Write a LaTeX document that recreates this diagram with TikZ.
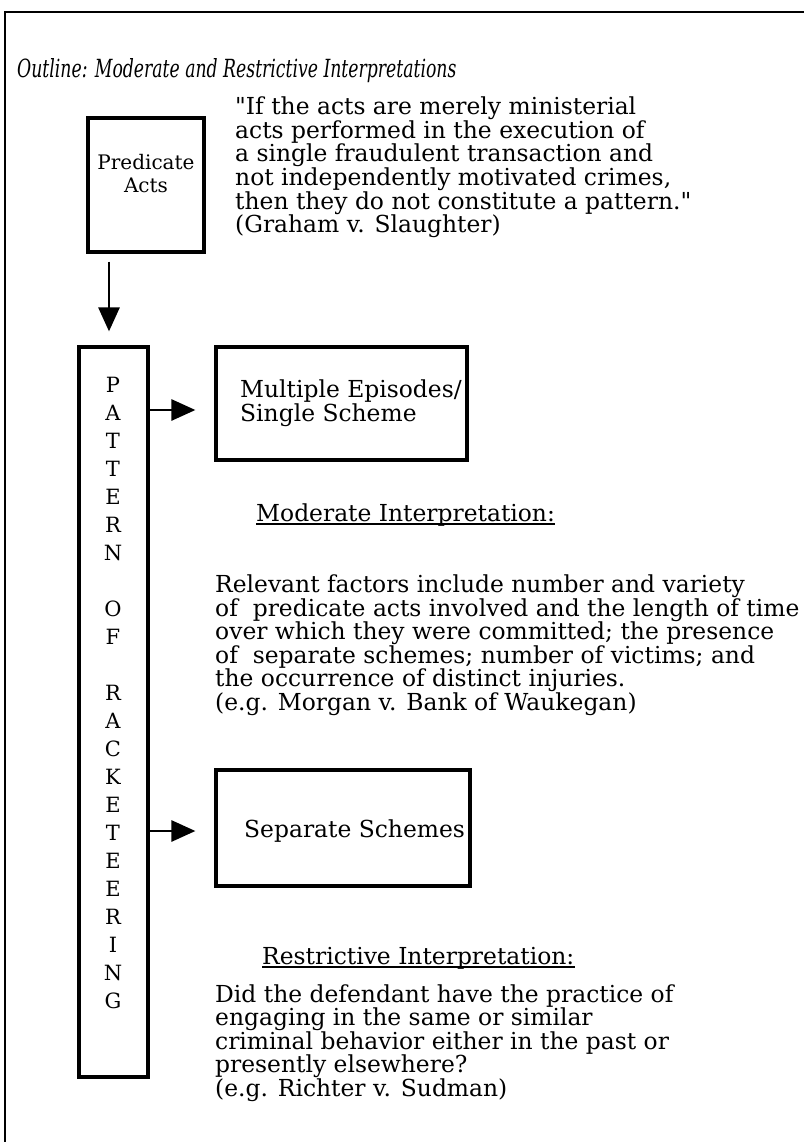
\documentclass[tikz,border=0pt]{standalone}
\usepackage{fontspec}
\setmainfont{DejaVu Serif}
\newfontfamily\titlefont[FakeStretch=0.69]{DejaVu Serif}
\usetikzlibrary{arrows.meta}
\begin{document}
\begin{tikzpicture}[x=1pt,y=-1pt,
  body/.style={font=\fontsize{23.4}{23.5}\selectfont, inner sep=0pt, align=left},
  boxed/.style={draw, line width=3.2pt, inner sep=0pt},
  arr/.style={line width=2.8pt, -{Triangle[length=24pt,width=21pt]}},
  frameline/.style={line width=2.2pt},
  uline/.style={line width=1.4pt}]
\useasboundingbox (0,0) rectangle (804,1142);
% frame
\coordinate (fbl) at (5,1142);
\coordinate (ftl) at (5,12);
\coordinate (ftr) at (804,12);
\draw[frameline] (fbl) -- (ftl) -- (ftr);
% title
\node[body, anchor=base west, font=\titlefont\itshape\fontsize{25}{25}\selectfont] (title) at (17,78) {Outline: Moderate and Restrictive Interpretations};
% predicate acts
\node[boxed, minimum width=116pt, minimum height=134pt] (predbox) at (146,185) {};
\node[body, align=center, anchor=base, font=\fontsize{20}{23}\selectfont] (pred) at (146,193) {Predicate\\Acts};
% quote (base anchor = last line)
\node[body, anchor=base west] (quote) at (235,232.5) {\textquotedbl If the acts are merely ministerial\\acts performed in the execution of\\a single fraudulent transaction and\\not independently motivated crimes,\\then they do not constitute a pattern.\textquotedbl\\(Graham v. Slaughter)};
% pattern box
\node[boxed, minimum width=69pt, minimum height=730pt] (pat) at (113.5,712) {};
\node[body, align=center, anchor=base, font=\fontsize{21}{28}\selectfont] (letters) at (113,1008) {P\\A\\T\\T\\E\\R\\N\\~\\O\\F\\~\\R\\A\\C\\K\\E\\T\\E\\E\\R\\I\\N\\G};
% predicate -> pattern
\draw[arr] ([yshift=-8pt]predbox.south -| 109,0) -- ([yshift=14pt]pat.north -| 109,0);
% multiple episodes
\node[boxed, minimum width=251pt, minimum height=113pt] (mult) at (341.5,403.5) {};
\node[body, anchor=base west] (multt) at (240,421) {Multiple Episodes/\\Single Scheme};
\draw[arr] (pat.east |- 0,410) -- ([xshift=-19pt]mult.west |- 0,410);
% moderate
\node[body, anchor=base west] (modh) at (256,521) {Moderate Interpretation:};
\draw[uline] ([yshift=-3pt]modh.base west) -- ([yshift=-3pt]modh.base east);
\node[body, anchor=base west] (modp) at (215,710) {Relevant factors include number and variety\\of\ \ predicate acts involved and the length of time\\over which they were committed; the presence\\of\ \ separate schemes; number of victims; and\\the occurrence of distinct injuries.\\(e.g. Morgan v. Bank of Waukegan)};
% separate schemes
\node[boxed, minimum width=254pt, minimum height=116pt] (sep) at (343,828) {};
\node[body, anchor=base west] (sept) at (244,837) {Separate Schemes};
\draw[arr] (pat.east |- 0,831) -- ([xshift=-19pt]sep.west |- 0,831);
% restrictive
\node[body, anchor=base west] (resh) at (262,964) {Restrictive Interpretation:};
\draw[uline] ([yshift=-3pt]resh.base west) -- ([yshift=-3pt]resh.base east);
\node[body, anchor=base west] (resp) at (215,1096) {Did the defendant have the practice of\\engaging in the same or similar\\criminal behavior either in the past or\\presently elsewhere?\\(e.g. Richter v. Sudman)};
\end{tikzpicture}
\end{document}
